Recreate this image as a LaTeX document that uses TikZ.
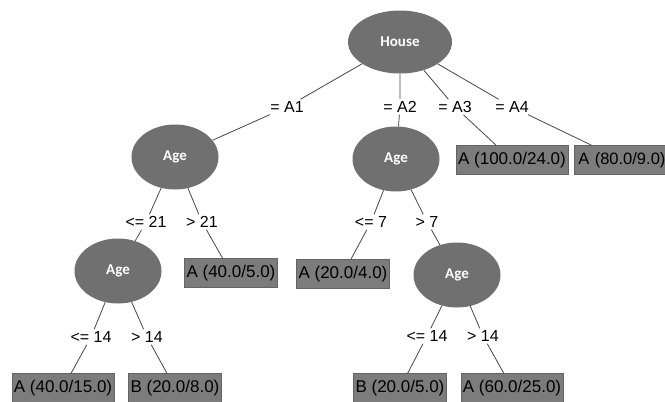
\documentclass[tikz,border=0pt]{standalone}
\usepackage{fontspec}
\setmainfont{Liberation Sans}
\newfontfamily\nodefont{Carlito}
\usetikzlibrary{shapes.geometric}
\definecolor{ellgray}{RGB}{112,112,112}
\definecolor{leafgray}{RGB}{124,124,124}
\definecolor{leafedge}{RGB}{100,100,100}
\definecolor{linegray}{RGB}{70,70,70}
\begin{document}
\begin{tikzpicture}[x=1pt,y=-1pt,
  inner/.style={ellipse,fill=ellgray,draw=none,text=white,font=\nodefont\bfseries\fontsize{15}{15}\selectfont,minimum width=87pt,minimum height=65pt,inner sep=0pt},
  leaf/.style={rectangle,fill=leafgray,draw=leafedge,line width=0.6pt,text=black,font=\fontsize{17}{17}\selectfont,minimum height=29pt,inner xsep=2pt,inner ysep=0pt},
  lbl/.style={font=\fontsize{16}{16}\selectfont,inner sep=2pt,text=black},
  conn/.style={draw=linegray,line width=0.8pt}]
\useasboundingbox (0,0) rectangle (665,402);
% internal nodes
\node[inner,minimum width=104pt,minimum height=63pt] (house) at (400,42) {House};
\node[inner] (age1) at (175,157) {Age};
\node[inner] (age2) at (396,159) {Age};
\node[inner] (age3) at (118,271) {Age};
\node[inner] (age4) at (457,275) {Age};
% leaves
\node[leaf] (l100) at (512,160) {A (100.0/24.0)};
\node[leaf,anchor=west,font=\fontsize{16.5}{17}\selectfont,minimum width=96pt,align=left,text width=88pt] (l80) at (574,160) {A (80.0/9.0)};
\node[leaf] (l405) at (231,273) {A (40.0/5.0)};
\node[leaf] (l204) at (343,274) {A (20.0/4.0)};
\node[leaf] (l4015) at (63,388) {A (40.0/15.0)};
\node[leaf] (l208) at (175,388) {B (20.0/8.0)};
\node[leaf] (l205) at (400,388) {B (20.0/5.0)};
\node[leaf] (l6025) at (512,388) {A (60.0/25.0)};
% labels
\node[lbl] (a1) at (287,107) {= A1};
\node[lbl] (a2) at (400,107) {= A2};
\node[lbl] (a3) at (455,107) {= A3};
\node[lbl] (a4) at (512,107) {= A4};
\node[lbl] (le21) at (146,222) {<= 21};
\node[lbl] (gt21) at (202,222) {> 21};
\node[lbl] (le14a) at (91,337) {<= 14};
\node[lbl] (gt14a) at (147,337) {> 14};
\node[lbl] (le7) at (371,222) {<= 7};
\node[lbl] (gt7) at (427,222) {> 7};
\node[lbl] (le14b) at (427,336) {<= 14};
\node[lbl] (gt14b) at (483,336) {> 14};
% connectors
\path[conn] (house) -- (a1) -- (age1);
\path[conn] (house) -- (a2) -- (age2);
\path[conn] (house) -- (a3) -- (l100);
\path[conn] (house) -- (a4) -- (l80);
\path[conn] (age1) -- (le21) -- (age3);
\path[conn] (age1) -- (gt21) -- (l405);
\path[conn] (age3) -- (le14a) -- (l4015);
\path[conn] (age3) -- (gt14a) -- (l208);
\path[conn] (age2) -- (le7) -- (l204);
\path[conn] (age2) -- (gt7) -- (age4);
\path[conn] (age4) -- (le14b) -- (l205);
\path[conn] (age4) -- (gt14b) -- (l6025);
\end{tikzpicture}
\end{document}
